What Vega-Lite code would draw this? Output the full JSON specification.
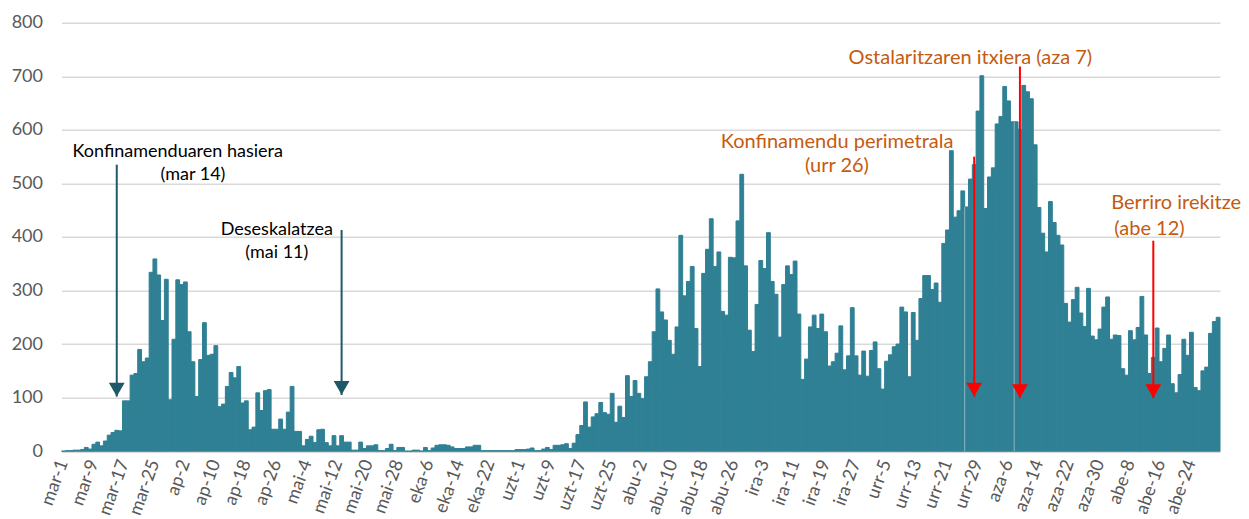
{
"$schema": "https://vega.github.io/schema/vega-lite/v6.json",
"width": 1158.5,
"height": 428.5,
"autosize": {"type": "none"},
"padding": {"left": 61.5, "top": 22.7, "right": 29, "bottom": 67.8},
"background": "white",
"config": {"view": {"stroke": null}, "font": "Lato"},
"datasets": {
"cases": [
{"i":0,"d":"mar-1","v":0},{"i":1,"d":"mar-2","v":1},{"i":2,"d":"mar-3","v":1},{"i":3,"d":"mar-4","v":2},{"i":4,"d":"mar-5","v":2},{"i":5,"d":"mar-6","v":3},{"i":6,"d":"mar-7","v":7},{"i":7,"d":"mar-8","v":4},{"i":8,"d":"mar-9","v":13},{"i":9,"d":"mar-10","v":17},{"i":10,"d":"mar-11","v":10},{"i":11,"d":"mar-12","v":19},{"i":12,"d":"mar-13","v":30},{"i":13,"d":"mar-14","v":35},{"i":14,"d":"mar-15","v":39},{"i":15,"d":"mar-16","v":38},{"i":16,"d":"mar-17","v":94},{"i":17,"d":"mar-18","v":94},{"i":18,"d":"mar-19","v":142},{"i":19,"d":"mar-20","v":145},{"i":20,"d":"mar-21","v":190},{"i":21,"d":"mar-22","v":167},{"i":22,"d":"mar-23","v":174},{"i":23,"d":"mar-24","v":334},{"i":24,"d":"mar-25","v":359},{"i":25,"d":"mar-26","v":329},{"i":26,"d":"mar-27","v":244},{"i":27,"d":"mar-28","v":321},{"i":28,"d":"mar-29","v":96},{"i":29,"d":"mar-30","v":209},{"i":30,"d":"mar-31","v":320},
{"i":31,"d":"ap-1","v":311},{"i":32,"d":"ap-2","v":316},{"i":33,"d":"ap-3","v":223},{"i":34,"d":"ap-4","v":167},{"i":35,"d":"ap-5","v":102},{"i":36,"d":"ap-6","v":171},{"i":37,"d":"ap-7","v":240},{"i":38,"d":"ap-8","v":179},{"i":39,"d":"ap-9","v":181},{"i":40,"d":"ap-10","v":197},{"i":41,"d":"ap-11","v":83},{"i":42,"d":"ap-12","v":88},{"i":43,"d":"ap-13","v":121},{"i":44,"d":"ap-14","v":147},{"i":45,"d":"ap-15","v":137},{"i":46,"d":"ap-16","v":158},{"i":47,"d":"ap-17","v":90},{"i":48,"d":"ap-18","v":94},{"i":49,"d":"ap-19","v":40},{"i":50,"d":"ap-20","v":45},{"i":51,"d":"ap-21","v":109},{"i":52,"d":"ap-22","v":76},{"i":53,"d":"ap-23","v":113},{"i":54,"d":"ap-24","v":115},{"i":55,"d":"ap-25","v":41},{"i":56,"d":"ap-26","v":41},{"i":57,"d":"ap-27","v":60},{"i":58,"d":"ap-28","v":41},{"i":59,"d":"ap-29","v":73},{"i":60,"d":"ap-30","v":121},
{"i":61,"d":"mai-1","v":37},{"i":62,"d":"mai-2","v":37},{"i":63,"d":"mai-3","v":10},{"i":64,"d":"mai-4","v":22},{"i":65,"d":"mai-5","v":28},{"i":66,"d":"mai-6","v":16},{"i":67,"d":"mai-7","v":40},{"i":68,"d":"mai-8","v":41},{"i":69,"d":"mai-9","v":16},{"i":70,"d":"mai-10","v":10},{"i":71,"d":"mai-11","v":29},{"i":72,"d":"mai-12","v":10},{"i":73,"d":"mai-13","v":29},{"i":74,"d":"mai-14","v":17},{"i":75,"d":"mai-15","v":17},{"i":76,"d":"mai-16","v":2},{"i":77,"d":"mai-17","v":2},{"i":78,"d":"mai-18","v":17},{"i":79,"d":"mai-19","v":5},{"i":80,"d":"mai-20","v":10},{"i":81,"d":"mai-21","v":10},{"i":82,"d":"mai-22","v":12},{"i":83,"d":"mai-23","v":1},{"i":84,"d":"mai-24","v":1},{"i":85,"d":"mai-25","v":5},{"i":86,"d":"mai-26","v":13},{"i":87,"d":"mai-27","v":1},{"i":88,"d":"mai-28","v":7},{"i":89,"d":"mai-29","v":7},{"i":90,"d":"mai-30","v":0},
{"i":91,"d":"eka-1","v":0},{"i":92,"d":"eka-2","v":2},{"i":93,"d":"eka-3","v":2},{"i":94,"d":"eka-4","v":0},{"i":95,"d":"eka-5","v":7},{"i":96,"d":"eka-6","v":1},{"i":97,"d":"eka-7","v":6},{"i":98,"d":"eka-8","v":11},{"i":99,"d":"eka-9","v":12},{"i":100,"d":"eka-10","v":12},{"i":101,"d":"eka-11","v":11},{"i":102,"d":"eka-12","v":8},{"i":103,"d":"eka-13","v":5},{"i":104,"d":"eka-14","v":5},{"i":105,"d":"eka-15","v":5},{"i":106,"d":"eka-16","v":8},{"i":107,"d":"eka-17","v":8},{"i":108,"d":"eka-18","v":11},{"i":109,"d":"eka-19","v":11},{"i":110,"d":"eka-20","v":1},{"i":111,"d":"eka-21","v":1},{"i":112,"d":"eka-22","v":1},{"i":113,"d":"eka-23","v":1},{"i":114,"d":"eka-24","v":1},{"i":115,"d":"eka-25","v":1},{"i":116,"d":"eka-26","v":1},{"i":117,"d":"eka-27","v":1},{"i":118,"d":"eka-28","v":1},{"i":119,"d":"eka-29","v":3},
{"i":120,"d":"uzt-1","v":3},{"i":121,"d":"uzt-2","v":3},{"i":122,"d":"uzt-3","v":4},{"i":123,"d":"uzt-4","v":6},{"i":124,"d":"uzt-5","v":1},{"i":125,"d":"uzt-6","v":1},{"i":126,"d":"uzt-7","v":4},{"i":127,"d":"uzt-8","v":7},{"i":128,"d":"uzt-9","v":3},{"i":129,"d":"uzt-10","v":11},{"i":130,"d":"uzt-11","v":11},{"i":131,"d":"uzt-12","v":12},{"i":132,"d":"uzt-13","v":14},{"i":133,"d":"uzt-14","v":5},{"i":134,"d":"uzt-15","v":15},{"i":135,"d":"uzt-16","v":31},{"i":136,"d":"uzt-17","v":48},{"i":137,"d":"uzt-18","v":92},{"i":138,"d":"uzt-19","v":45},{"i":139,"d":"uzt-20","v":64},{"i":140,"d":"uzt-21","v":70},{"i":141,"d":"uzt-22","v":91},{"i":142,"d":"uzt-23","v":72},{"i":143,"d":"uzt-24","v":69},{"i":144,"d":"uzt-25","v":108},{"i":145,"d":"uzt-26","v":54},{"i":146,"d":"uzt-27","v":84},{"i":147,"d":"uzt-28","v":63},{"i":148,"d":"uzt-29","v":141},{"i":149,"d":"uzt-30","v":102},{"i":150,"d":"uzt-31","v":132},
{"i":151,"d":"abu-1","v":108},{"i":152,"d":"abu-2","v":98},{"i":153,"d":"abu-3","v":139},{"i":154,"d":"abu-4","v":167},{"i":155,"d":"abu-5","v":223},{"i":156,"d":"abu-6","v":303},{"i":157,"d":"abu-7","v":260},{"i":158,"d":"abu-8","v":245},{"i":159,"d":"abu-9","v":207},{"i":160,"d":"abu-10","v":181},{"i":161,"d":"abu-11","v":232},{"i":162,"d":"abu-12","v":403},{"i":163,"d":"abu-13","v":290},{"i":164,"d":"abu-14","v":317},{"i":165,"d":"abu-15","v":345},{"i":166,"d":"abu-16","v":229},{"i":167,"d":"abu-17","v":158},{"i":168,"d":"abu-18","v":332},{"i":169,"d":"abu-19","v":377},{"i":170,"d":"abu-20","v":434},{"i":171,"d":"abu-21","v":345},{"i":172,"d":"abu-22","v":372},{"i":173,"d":"abu-23","v":261},{"i":174,"d":"abu-24","v":254},{"i":175,"d":"abu-25","v":362},{"i":176,"d":"abu-26","v":361},{"i":177,"d":"abu-27","v":430},{"i":178,"d":"abu-28","v":517},{"i":179,"d":"abu-29","v":346},{"i":180,"d":"abu-30","v":226},{"i":181,"d":"abu-31","v":186},
{"i":182,"d":"ira-1","v":274},{"i":183,"d":"ira-2","v":356},{"i":184,"d":"ira-3","v":341},{"i":185,"d":"ira-4","v":408},{"i":186,"d":"ira-5","v":317},{"i":187,"d":"ira-6","v":293},{"i":188,"d":"ira-7","v":213},{"i":189,"d":"ira-8","v":311},{"i":190,"d":"ira-9","v":346},{"i":191,"d":"ira-10","v":330},{"i":192,"d":"ira-11","v":355},{"i":193,"d":"ira-12","v":256},{"i":194,"d":"ira-13","v":134},{"i":195,"d":"ira-14","v":172},{"i":196,"d":"ira-15","v":232},{"i":197,"d":"ira-16","v":254},{"i":198,"d":"ira-17","v":229},{"i":199,"d":"ira-18","v":256},{"i":200,"d":"ira-19","v":223},{"i":201,"d":"ira-20","v":159},{"i":202,"d":"ira-21","v":167},{"i":203,"d":"ira-22","v":183},{"i":204,"d":"ira-23","v":234},{"i":205,"d":"ira-24","v":152},{"i":206,"d":"ira-25","v":178},{"i":207,"d":"ira-26","v":268},{"i":208,"d":"ira-27","v":178},{"i":209,"d":"ira-28","v":142},{"i":210,"d":"ira-29","v":187},{"i":211,"d":"ira-30","v":140},
{"i":212,"d":"urr-1","v":188},{"i":213,"d":"urr-2","v":204},{"i":214,"d":"urr-3","v":154},{"i":215,"d":"urr-4","v":116},{"i":216,"d":"urr-5","v":168},{"i":217,"d":"urr-6","v":180},{"i":218,"d":"urr-7","v":195},{"i":219,"d":"urr-8","v":200},{"i":220,"d":"urr-9","v":269},{"i":221,"d":"urr-10","v":260},{"i":222,"d":"urr-11","v":139},{"i":223,"d":"urr-12","v":259},{"i":224,"d":"urr-13","v":207},{"i":225,"d":"urr-14","v":285},{"i":226,"d":"urr-15","v":328},{"i":227,"d":"urr-16","v":328},{"i":228,"d":"urr-17","v":302},{"i":229,"d":"urr-18","v":314},{"i":230,"d":"urr-19","v":278},{"i":231,"d":"urr-20","v":388},{"i":232,"d":"urr-21","v":413},{"i":233,"d":"urr-22","v":561},{"i":234,"d":"urr-23","v":437},{"i":235,"d":"urr-24","v":449},{"i":236,"d":"urr-25","v":486},{"i":237,"d":"urr-26","v":456},{"i":238,"d":"urr-27","v":508},{"i":239,"d":"urr-28","v":535},{"i":240,"d":"urr-29","v":635},{"i":241,"d":"urr-30","v":701},{"i":242,"d":"urr-31","v":453},
{"i":243,"d":"aza-1","v":512},{"i":244,"d":"aza-2","v":529},{"i":245,"d":"aza-3","v":611},{"i":246,"d":"aza-4","v":625},{"i":247,"d":"aza-5","v":681},{"i":248,"d":"aza-6","v":654},{"i":249,"d":"aza-7","v":615},{"i":250,"d":"aza-8","v":615},{"i":251,"d":"aza-9","v":601},{"i":252,"d":"aza-10","v":683},{"i":253,"d":"aza-11","v":671},{"i":254,"d":"aza-12","v":658},{"i":255,"d":"aza-13","v":572},{"i":256,"d":"aza-14","v":455},{"i":257,"d":"aza-15","v":407},{"i":258,"d":"aza-16","v":372},{"i":259,"d":"aza-17","v":466},{"i":260,"d":"aza-18","v":427},{"i":261,"d":"aza-19","v":403},{"i":262,"d":"aza-20","v":385},{"i":263,"d":"aza-21","v":276},{"i":264,"d":"aza-22","v":241},{"i":265,"d":"aza-23","v":283},{"i":266,"d":"aza-24","v":306},{"i":267,"d":"aza-25","v":258},{"i":268,"d":"aza-26","v":233},{"i":269,"d":"aza-27","v":304},{"i":270,"d":"aza-28","v":215},{"i":271,"d":"aza-29","v":208},{"i":272,"d":"aza-30","v":228},
{"i":273,"d":"abe-1","v":269},{"i":274,"d":"abe-2","v":288},{"i":275,"d":"abe-3","v":209},{"i":276,"d":"abe-4","v":217},{"i":277,"d":"abe-5","v":216},{"i":278,"d":"abe-6","v":154},{"i":279,"d":"abe-7","v":142},{"i":280,"d":"abe-8","v":225},{"i":281,"d":"abe-9","v":208},{"i":282,"d":"abe-10","v":231},{"i":283,"d":"abe-11","v":289},{"i":284,"d":"abe-12","v":217},{"i":285,"d":"abe-13","v":145},{"i":286,"d":"abe-14","v":175},{"i":287,"d":"abe-15","v":230},{"i":288,"d":"abe-16","v":167},{"i":289,"d":"abe-17","v":192},{"i":290,"d":"abe-18","v":217},{"i":291,"d":"abe-19","v":126},{"i":292,"d":"abe-20","v":109},{"i":293,"d":"abe-21","v":143},{"i":294,"d":"abe-22","v":209},{"i":295,"d":"abe-23","v":179},{"i":296,"d":"abe-24","v":222},{"i":297,"d":"abe-25","v":119},{"i":298,"d":"abe-26","v":113},{"i":299,"d":"abe-27","v":150},{"i":300,"d":"abe-28","v":157},{"i":301,"d":"abe-29","v":220},{"i":302,"d":"abe-30","v":242},{"i":303,"d":"abe-31","v":250}
],
"seams": [{"i":237,"v":456},{"i":250,"v":615}],
"arrows": [
{"i":14,"top":535,"tip":102,"c":"dark"},
{"i":73,"top":413,"tip":105,"c":"dark"},
{"i":239,"top":550,"tip":102,"c":"red"},
{"i":251,"top":718,"tip":99,"c":"red"},
{"i":286,"top":393,"tip":99,"c":"red"}
],
"notesBlack": [
{"i":30,"v":550,"t":"Konfinamenduaren hasiera"},
{"i":34,"v":507,"t":"(mar 14)"},
{"i":56,"v":404,"t":"Deseskalatzea"},
{"i":56,"v":361,"t":"(mai 11)"}
],
"notesOrange": [
{"i":203,"v":566,"t":"Konfinamendu perimetrala"},
{"i":203,"v":522,"t":"(urr 26)"},
{"i":238,"v":723,"t":"Ostalaritzaren itxiera (aza 7)"},
{"i":292,"v":452,"t":"Berriro irekitze"},
{"i":285,"v":404,"t":"(abe 12)"}
]
},
"layer": [
{
"data": {"name": "cases"},
"mark": {"type": "bar", "color": "#2f8094", "stroke": "#2f8094", "strokeWidth": 1},
"encoding": {
"x": {"field": "i", "type": "ordinal",
"scale": {"paddingInner": 0, "paddingOuter": 0},
"axis": {"title": null, "values": [0,8,16,24,32,40,48,56,64,72,80,88,96,104,112,120,128,136,144,152,160,168,176,184,192,200,208,216,224,232,240,248,256,264,272,280,288,296],
"labelExpr": "['mar-1','mar-9','mar-17','mar-25','ap-2','ap-10','ap-18','ap-26','mai-4','mai-12','mai-20','mai-28','eka-6','eka-14','eka-22','uzt-1','uzt-9','uzt-17','uzt-25','abu-2','abu-10','abu-18','abu-26','ira-3','ira-11','ira-19','ira-27','urr-5','urr-13','urr-21','urr-29','aza-6','aza-14','aza-22','aza-30','abe-8','abe-16','abe-24'][floor(datum.value / 8)]",
"labelAngle": -70, "labelFont": "Lato", "labelFontSize": 18, "labelColor": "#595959",
"ticks": false, "tickSize": 0, "labelPadding": 9, "domainColor": "#d9d9d9", "domainWidth": 1.5, "grid": false}},
"y": {"field": "v", "type": "quantitative",
"scale": {"domain": [0, 800], "nice": false},
"axis": {"title": null, "values": [0,100,200,300,400,500,600,700,800], "labelFont": "Lato", "labelFontSize": 18, "labelColor": "#595959",
"domain": false, "ticks": false, "tickSize": 0, "labelPadding": 19, "gridColor": "#d9d9d9", "gridWidth": 1.5}}
}
},
{
"data": {"name": "seams"},
"mark": {"type": "rule", "color": "#8ab6c2", "strokeWidth": 1},
"encoding": {
"x": {"field": "i", "type": "ordinal", "bandPosition": 0},
"y": {"field": "v", "type": "quantitative"},
"y2": {"datum": 0}
}
},
{
"data": {"name": "arrows"},
"mark": {"type": "rule", "strokeWidth": 2},
"encoding": {
"x": {"field": "i", "type": "ordinal"},
"y": {"field": "top", "type": "quantitative"},
"y2": {"field": "tip"},
"color": {"field": "c", "type": "nominal", "legend": null,
"scale": {"domain": ["dark","red"], "range": ["#1f5868","#ff0000"]}}
}
},
{
"data": {"name": "arrows"},
"mark": {"type": "point", "shape": "triangle-down", "size": 250, "filled": true, "opacity": 1, "yOffset": -7},
"encoding": {
"x": {"field": "i", "type": "ordinal"},
"y": {"field": "tip", "type": "quantitative"},
"color": {"field": "c", "type": "nominal", "legend": null,
"scale": {"domain": ["dark","red"], "range": ["#1f5868","#ff0000"]}}
}
},
{
"data": {"name": "notesBlack"},
"mark": {"type": "text", "font": "Lato", "fontSize": 18, "align": "center", "baseline": "alphabetic", "color": "#000000"},
"encoding": {
"x": {"field": "i", "type": "ordinal"},
"y": {"field": "v", "type": "quantitative"},
"text": {"field": "t"}
}
},
{
"data": {"name": "notesOrange"},
"mark": {"type": "text", "font": "Lato", "fontSize": 20, "align": "center", "baseline": "alphabetic", "color": "#c55a11"},
"encoding": {
"x": {"field": "i", "type": "ordinal"},
"y": {"field": "v", "type": "quantitative"},
"text": {"field": "t"}
}
}
]
}
